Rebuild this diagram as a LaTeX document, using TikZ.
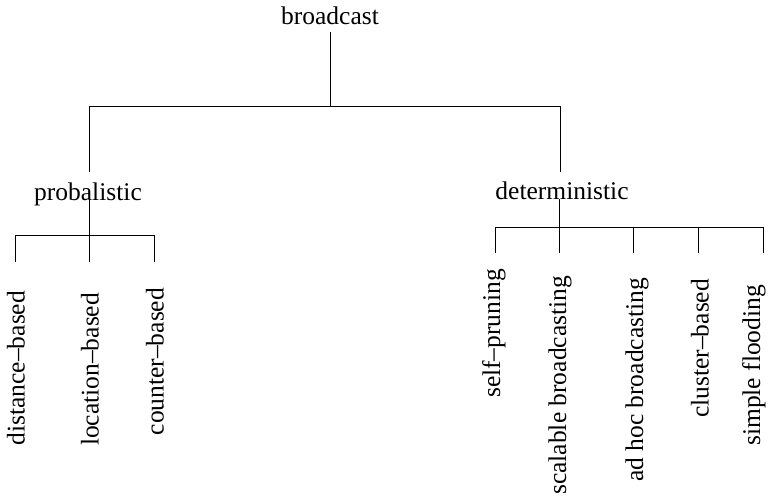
\documentclass[tikz,border=0pt]{standalone}
\usepackage{fontspec}
\setmainfont{Liberation Serif}
\begin{document}
\begin{tikzpicture}[x=1pt,y=-1pt,
  every node/.style={inner sep=0pt,outer sep=0pt,font=\fontsize{25.5}{30}\selectfont},
  head/.style={anchor=base},
  leaf/.style={rotate=90,anchor=east},
  branch/.style={line width=1pt,line cap=butt}]
\useasboundingbox (0,0) rectangle (768,496);

% category titles
\node[head] (root) at (330,24) {broadcast};
\node[head] (prob) at (88,200) {probalistic};
\node[head] (det)  at (562,199) {deterministic};

% leaves under probalistic
\node[leaf] (dist) at (16,291) {distance–based};
\node[leaf] (loc)  at (90,293) {location–based};
\node[leaf] (cnt)  at (155,288) {counter–based};

% leaves under deterministic
\node[leaf] (self) at (494,269) {self–pruning};
\node[leaf] (scal) at (560,276) {scalable broadcasting};
\node[leaf] (adhoc) at (637,278) {ad hoc broadcasting};
\node[leaf] (clus) at (700,279) {cluster–based};
\node[leaf] (flood) at (754,285) {simple flooding};

% junction points of the tree
\coordinate (r0) at (330,32);
\coordinate (r1) at (330,106);
\coordinate (rL) at (89,106);
\coordinate (rR) at (560,106);
\coordinate (pIn) at (89,172);
\coordinate (dIn) at (560,172);

\coordinate (p0) at (89,199);
\coordinate (p1) at (89,235);
\coordinate (pL) at (15,235);
\coordinate (pR) at (154,235);
\coordinate (pa) at (15,262);
\coordinate (pb) at (89,262);
\coordinate (pc) at (154,262);

\coordinate (d0) at (559,199);
\coordinate (d1) at (559,227);
\coordinate (dL) at (495,227);
\coordinate (dR) at (763,227);
\coordinate (da) at (495,253);
\coordinate (db) at (559,253);
\coordinate (dc) at (633,253);
\coordinate (dd) at (698,253);
\coordinate (de) at (763,253);
\coordinate (dcT) at (633,227);
\coordinate (ddT) at (698,227);

% top level
\draw[branch] (r0) -- (r1);
\draw[branch] (rL) -- (rR);
\draw[branch] (rL) -- (pIn);
\draw[branch] (rR) -- (dIn);

% probalistic subtree
\draw[branch] (p0) -- (p1);
\draw[branch] (pL) -- (pR);
\draw[branch] (pL) -- (pa);
\draw[branch] (p1) -- (pb);
\draw[branch] (pR) -- (pc);

% deterministic subtree
\draw[branch] (d0) -- (d1);
\draw[branch] (dL) -- (dR);
\draw[branch] (dL) -- (da);
\draw[branch] (d1) -- (db);
\draw[branch] (dcT) -- (dc);
\draw[branch] (ddT) -- (dd);
\draw[branch] (dR) -- (de);
\end{tikzpicture}
\end{document}
